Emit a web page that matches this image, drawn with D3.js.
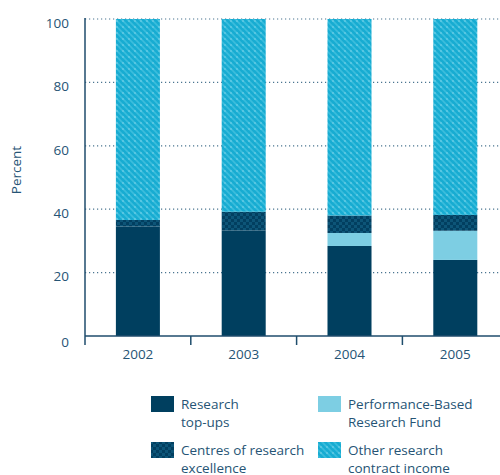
<!DOCTYPE html>
<html><head><meta charset="utf-8">
<script src="https://cdn.jsdelivr.net/npm/d3@7"></script>
<style>body{margin:0;background:#fff;} text{font-family:"Open Sans",sans-serif;}</style>
</head><body>
<svg id="c" width="500" height="475"></svg>
<script>
const years = ["2002","2003","2004","2005"];
const topUps = [34.5, 33.3, 28.4, 24.0];
const pbrf = [0, 0, 4.1, 9.2];
const centres = [2.1, 5.9, 5.5, 5.0];
const other = years.map((y,i)=>100 - topUps[i]-pbrf[i]-centres[i]);
const yTicks = [0,20,40,60,80,100];
const seriesNames = ["Research top-ups","Performance-Based Research Fund","Centres of research excellence","Other research contract income"];

const svg = d3.select("#c");
const defs = svg.append("defs");
const pOther = defs.append("pattern").attr("id","pOther").attr("patternUnits","userSpaceOnUse").attr("width",6).attr("height",6);
pOther.append("rect").attr("width",6).attr("height",6).attr("fill","#17acd2");
pOther.append("path").attr("d","M0,0L6,6M-3,3L3,9M3,-3L9,3").attr("stroke","#3bbddc").attr("stroke-width",1.6);
pOther.append("circle").attr("cx",3).attr("cy",3).attr("r",0.8).attr("fill","#7fd6ec");
const pCen = defs.append("pattern").attr("id","pCen").attr("patternUnits","userSpaceOnUse").attr("width",6).attr("height",6);
pCen.append("rect").attr("width",6).attr("height",6).attr("fill","#0d5578");
pCen.append("rect").attr("width",3).attr("height",3).attr("fill","#023f60");
pCen.append("rect").attr("x",3).attr("y",3).attr("width",3).attr("height",3).attr("fill","#023f60");

const colors = ["#003f5f","#7dcee3","url(#pCen)","url(#pOther)"];
const textCol = "#265475";

const x = d3.scaleBand().domain(years).range([85, 508.2]).paddingInner(0.584).paddingOuter(0.292);
const y = d3.scaleLinear().domain([0,100]).range([336, 19]);

svg.append("g").selectAll("line").data(yTicks.filter(d=>d>0)).join("line")
  .attr("x1",85).attr("x2",500).attr("y1",d=>y(d)).attr("y2",d=>y(d))
  .attr("stroke","#4a7590").attr("stroke-width",1.2).attr("stroke-dasharray","1.2,2.8");

const rows = years.map((yr,i)=>({year:yr, a:topUps[i], b:pbrf[i], c:centres[i], d:other[i]}));
const stack = d3.stack().keys(["a","b","c","d"])(rows);
svg.append("g").selectAll("g").data(stack).join("g").attr("fill",(d,i)=>colors[i])
  .selectAll("rect").data(d=>d).join("rect")
  .attr("x",d=>x(d.data.year)).attr("width",x.bandwidth())
  .attr("y",d=>y(d[1])).attr("height",d=>y(d[0])-y(d[1]));

svg.append("line").attr("x1",85).attr("x2",85).attr("y1",18).attr("y2",345).attr("stroke","#1f4d6c").attr("stroke-width",1.5);
svg.append("g").selectAll("text").data(yTicks).join("text")
  .attr("x",69).attr("y",d=>y(d)+(d===0?6:4)).attr("dy","0.35em").attr("text-anchor","end")
  .attr("font-size",13.5).attr("fill",textCol).text(d=>d);
svg.append("text").attr("transform","translate(21,170) rotate(-90)").attr("text-anchor","middle")
  .attr("font-size",13.5).attr("fill",textCol).text("Percent");

svg.append("line").attr("x1",85).attr("x2",500).attr("y1",336).attr("y2",336).attr("stroke","#1f4d6c").attr("stroke-width",1.5);
const bounds = years.slice(1).map(yr=>x(yr)-x.step()*x.paddingInner()/2);
svg.append("g").selectAll("line").data(bounds).join("line")
  .attr("x1",d=>d).attr("x2",d=>d).attr("y1",336).attr("y2",345).attr("stroke","#1f4d6c").attr("stroke-width",1.5);
svg.append("g").selectAll("text").data(years).join("text")
  .attr("x",d=>x(d)+x.bandwidth()/2).attr("y",354).attr("dy","0.35em").attr("text-anchor","middle")
  .attr("font-size",13.5).attr("fill",textCol).text(d=>d);

const legendItems = [
  {c:colors[0], lines:["Research","top-ups"], x:151, y:396},
  {c:colors[1], lines:["Performance-Based","Research Fund"], x:318, y:396},
  {c:colors[2], lines:["Centres of research","excellence"], x:151, y:442},
  {c:colors[3], lines:["Other research","contract income"], x:318, y:442}
];
const lg = svg.append("g").selectAll("g").data(legendItems).join("g");
lg.append("rect").attr("x",d=>d.x).attr("y",d=>d.y).attr("width",23).attr("height",16).attr("fill",d=>d.c);
lg.each(function(d){
  const g = d3.select(this);
  d.lines.forEach((t,j)=>{
    g.append("text").attr("x",d.x+30).attr("y",d.y+12.5+j*18).attr("font-size",13.5).attr("fill",textCol).text(t);
  });
});
</script>
</body></html>
